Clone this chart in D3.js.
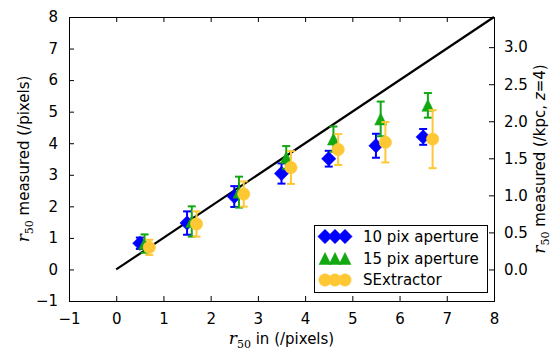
<!DOCTYPE html>
<html>
<head>
<meta charset="utf-8">
<script src="https://cdn.jsdelivr.net/npm/d3@7"></script>
<style>
  html, body { margin: 0; padding: 0; background: #fff; }
  svg { display: block; font-family: "DejaVu Sans", sans-serif; }
</style>
</head>
<body>
<svg id="chart" width="556" height="352"></svg>
<script>
// Input half-light radius of the test sources (pixels); each method is shifted slightly for clarity
const xBlue   = [0.5, 1.5, 2.5, 3.5, 4.5, 5.5, 6.5];
const xGreen  = [0.6, 1.6, 2.6, 3.6, 4.6, 5.6, 6.6];
const xYellow = [0.7, 1.7, 2.7, 3.7, 4.7, 5.7, 6.7];

// Measured r50 (pixels) and 1-sigma scatter
const ap10    = [0.83, 1.47, 2.31, 3.04, 3.51, 3.92, 4.20];
const ap10Err = [0.18, 0.37, 0.33, 0.32, 0.25, 0.38, 0.25];
const ap15    = [0.82, 1.52, 2.45, 3.55, 4.13, 4.77, 5.20];
const ap15Err = [0.29, 0.48, 0.49, 0.36, 0.40, 0.55, 0.39];
const sex     = [0.70, 1.44, 2.39, 3.23, 3.80, 4.03, 4.13];
const sexErr  = [0.24, 0.40, 0.40, 0.52, 0.49, 0.64, 0.92];

const seriesNames = ["10 pix aperture", "15 pix aperture", "SExtractor"];

// Axis ticks
const xTicks = [-1, 0, 1, 2, 3, 4, 5, 6, 7, 8];
const yTicks = [-1, 0, 1, 2, 3, 4, 5, 6, 7, 8];
const kpcTicks = [0.0, 0.5, 1.0, 1.5, 2.0, 2.5, 3.0];

// Pixel scale at z=4 (pixels per kpc)
const pixPerKpc = 2.348;

const svg = d3.select("#chart");
const W = 556, H = 352;
const m = { left: 69, right: 62, top: 17, bottom: 51 };
const pw = W - m.left - m.right, ph = H - m.top - m.bottom;

const x = d3.scaleLinear().domain([-1, 8]).range([m.left, m.left + pw]);
const y = d3.scaleLinear().domain([-1, 8]).range([m.top + ph, m.top]);
const yKpc = d3.scaleLinear().domain([-1 / pixPerKpc, 8 / pixPerKpc]).range([m.top + ph, m.top]);

const TICK = 5;
const FS = 15;

// one-to-one line
const plot = svg.append("g");
plot.append("path")
  .attr("d", d3.line().x(d => x(d)).y(d => y(d))([0, 8]))
  .attr("stroke", "#000").attr("stroke-width", 2.2).attr("fill", "none");

// marker shapes; the size argument is the half-extent of the marker
const diamond = { draw(ctx, s) { ctx.moveTo(0, -s); ctx.lineTo(s, 0); ctx.lineTo(0, s); ctx.lineTo(-s, 0); ctx.closePath(); } };
const triangle = { draw(ctx, s) { ctx.moveTo(0, -s); ctx.lineTo(s, s); ctx.lineTo(-s, s); ctx.closePath(); } };
const circle = { draw(ctx, s) { ctx.moveTo(s, 0); ctx.arc(0, 0, s, 0, 2 * Math.PI); } };

const series = [
  { name: seriesNames[0], xs: xBlue,   ys: ap10, err: ap10Err, color: "#0000ff", shape: diamond,  size: 7.2 },
  { name: seriesNames[1], xs: xGreen,  ys: ap15, err: ap15Err, color: "#12a812", shape: triangle, size: 6 },
  { name: seriesNames[2], xs: xYellow, ys: sex,  err: sexErr,  color: "#fdc834", shape: circle,   size: 6.2 }
];

function markerPath(s) {
  const p = d3.path();
  s.shape.draw(p, s.size);
  return p.toString();
}

series.forEach(s => {
  const g = plot.append("g");
  const pts = s.xs.map((xv, i) => ({ x: xv, y: s.ys[i], e: s.err[i] }));
  // error bars
  g.selectAll("line.bar").data(pts).join("line")
    .attr("x1", d => x(d.x)).attr("x2", d => x(d.x))
    .attr("y1", d => y(d.y - d.e)).attr("y2", d => y(d.y + d.e))
    .attr("stroke", s.color).attr("stroke-width", 2);
  // caps
  ["lo", "hi"].forEach(k => {
    g.selectAll("line.cap" + k).data(pts).join("line")
      .attr("x1", d => x(d.x) - 4).attr("x2", d => x(d.x) + 4)
      .attr("y1", d => y(k === "lo" ? d.y - d.e : d.y + d.e))
      .attr("y2", d => y(k === "lo" ? d.y - d.e : d.y + d.e))
      .attr("stroke", s.color).attr("stroke-width", 2);
  });
  g.selectAll("path.mk").data(pts).join("path")
    .attr("d", markerPath(s))
    .attr("transform", d => `translate(${x(d.x)},${y(d.y)})`)
    .attr("fill", s.color).attr("stroke", s.color).attr("stroke-width", 0.5);
});

// axes (ticks pointing inward)
const axStyle = g => {
  g.select(".domain").remove();
  g.selectAll(".tick line").attr("stroke", "#000").attr("stroke-width", 1);
  g.selectAll(".tick text").attr("fill", "#000").attr("font-size", FS)
    .attr("font-family", "DejaVu Sans, sans-serif");
};
svg.append("g").attr("transform", `translate(0,${m.top + ph})`)
  .call(d3.axisBottom(x).tickValues(xTicks).tickFormat(d3.format("d")).tickSizeInner(-TICK).tickPadding(TICK + 7))
  .call(axStyle);
svg.append("g").attr("transform", `translate(0,${m.top})`)
  .call(d3.axisTop(x).tickValues(xTicks).tickFormat("").tickSizeInner(-TICK))
  .call(axStyle);
svg.append("g").attr("transform", `translate(${m.left},0)`)
  .call(d3.axisLeft(y).tickValues(yTicks).tickFormat(d3.format("d")).tickSizeInner(-TICK).tickPadding(TICK + 6))
  .call(axStyle);
svg.append("g").attr("transform", `translate(${m.left + pw},0)`)
  .call(d3.axisRight(yKpc).tickValues(kpcTicks).tickFormat(d3.format(".1f")).tickSizeInner(-TICK).tickPadding(TICK + 5))
  .call(axStyle);

// frame
svg.append("rect").attr("x", m.left + 0.5).attr("y", m.top + 0.5)
  .attr("width", pw).attr("height", ph)
  .attr("fill", "none").attr("stroke", "#000").attr("stroke-width", 1);

// axis titles with r_50 math notation
function r50Label(sel, rest, zPart) {
  sel.append("tspan").attr("font-family", "DejaVu Serif, serif").attr("font-style", "italic")
    .attr("font-size", 17).text("r");
  sel.append("tspan").attr("font-family", "DejaVu Serif, serif").attr("font-size", 11)
    .attr("dy", 4).text("50");
  sel.append("tspan").attr("dy", -4).text(rest);
  if (zPart) {
    sel.append("tspan").attr("font-style", "italic").text("z");
    sel.append("tspan").text("=4)");
  }
}
const xl = svg.append("text").attr("x", m.left + pw / 2).attr("y", 344)
  .attr("text-anchor", "middle").attr("font-size", FS).attr("fill", "#000");
r50Label(xl, " in (/pixels)");

const yl = svg.append("text").attr("transform", `translate(29,${m.top + ph / 2}) rotate(-90)`)
  .attr("text-anchor", "middle").attr("font-size", FS).attr("fill", "#000");
r50Label(yl, " measured (/pixels)");

const yr = svg.append("text").attr("transform", `translate(545,${m.top + ph / 2}) rotate(-90)`)
  .attr("text-anchor", "middle").attr("font-size", FS).attr("fill", "#000");
r50Label(yr, " measured (/kpc, ", true);

// legend
const lg = svg.append("g");
lg.append("rect").attr("x", 314.5).attr("y", 225.5).attr("width", 173).attr("height", 67)
  .attr("fill", "#fff").attr("stroke", "#000").attr("stroke-width", 1);
const rowY = [236.5, 258.5, 280];
series.forEach((s, i) => {
  [325, 335, 345].forEach(mx => {
    lg.append("path").attr("d", markerPath(s))
      .attr("transform", `translate(${mx},${rowY[i]})`)
      .attr("fill", s.color).attr("stroke", s.color).attr("stroke-width", 0.5);
  });
  lg.append("text").attr("x", 363).attr("y", rowY[i]).attr("dy", "0.36em")
    .attr("font-size", FS).attr("fill", "#000").text(s.name);
});
</script>
</body>
</html>
